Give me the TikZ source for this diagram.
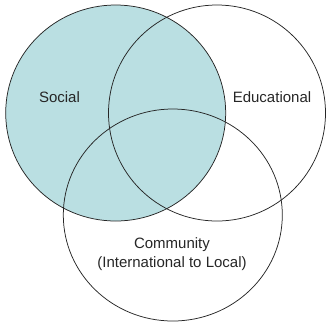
\documentclass[tikz,border=0pt]{standalone}
\usepackage{fontspec}
\setmainfont{Liberation Sans}
\usetikzlibrary{shapes.geometric}
\definecolor{socialfill}{RGB}{186,223,226}
\begin{document}
\begin{tikzpicture}[x=1pt,y=-1pt,
  ring/.style={ellipse, draw=black!85, line width=0.75pt, inner sep=0pt, outer sep=0pt},
  lbl/.style={font=\fontsize{15}{19}\selectfont, align=center, text=black!85, inner sep=0pt}]
\useasboundingbox (0,0) rectangle (326,322);
\node[ring, fill=socialfill, minimum width=220pt, minimum height=216pt] (social) at (115.7,113) {};
\node[ring, minimum width=217pt, minimum height=216pt] (edu) at (217,113) {};
\node[ring, minimum width=219pt, minimum height=212pt] (comm) at (172.8,215) {};
\node[lbl] (tsocial) at (59.5,97) {Social};
\node[lbl] (tedu) at (272,97) {Educational};
\node[lbl] (tcomm) at (172,254.5) {Community\\(International to Local)};
\end{tikzpicture}
\end{document}
